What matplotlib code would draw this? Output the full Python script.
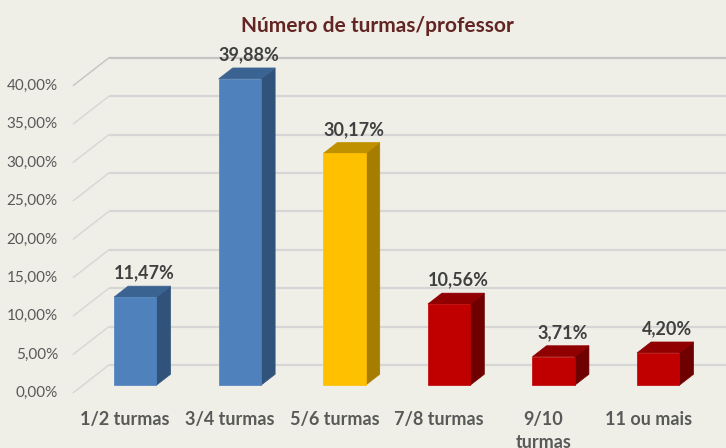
import matplotlib
matplotlib.use("Agg")
import matplotlib.pyplot as plt
from matplotlib.patches import Polygon

# ---- data ----
categories = ["1/2 turmas", "3/4 turmas", "5/6 turmas", "7/8 turmas", "9/10\nturmas", "11 ou mais"]
values = [11.47, 39.88, 30.17, 10.56, 3.71, 4.20]
y_ticks = [0, 5, 10, 15, 20, 25, 30, 35, 40]
title = "Número de turmas/professor"

# ---- styles ----
front_cols = ["#4F81BD", "#4F81BD", "#FFC000", "#C00000", "#C00000", "#C00000"]
side_cols = ["#31527A", "#31527A", "#A67D00", "#6E0000", "#6E0000", "#6E0000"]
top_cols = ["#3B6392", "#3B6392", "#BF9000", "#900000", "#900000", "#900000"]
bg = "#EFEFE7"
grid_col = "#D6D6D6"
font = "Lato"

W, H = 726, 448
X0, XS = 125.2, 104.6       # px of category 0 on front plane, px per category
Y0, YS = 55.0, 7.68         # px (from bottom) of 0% on front plane, px per percent
DX, DY = 36 / XS, 28 / YS   # depth offset of back wall, data units
Z0, Z1 = 0.28, 0.67         # bar depth range (fraction of wall depth)
HW = 21.2 / XS              # bar half width

fig = plt.figure(figsize=(W / 100, H / 100), dpi=100, facecolor=bg)
ax = fig.add_axes([0, 0, 1, 1])
ax.set_facecolor(bg)
ax.set_xlim(-X0 / XS, (W - X0) / XS)
ax.set_ylim(-Y0 / YS, (H - Y0) / YS)
ax.axis("off")

xl = -0.5
xr = ax.get_xlim()[1] + 1
# gridlines: left wall diagonals + back wall horizontals
for t in y_ticks:
    c = "#C4C4C4" if t == max(y_ticks) else grid_col
    ax.plot([xl, xl + DX], [t, t + DY], color=c, lw=1.0, zorder=1, solid_capstyle="butt")
    ax.plot([xl + DX, xr], [t + DY, t + DY], color=c, lw=1.6, zorder=1, solid_capstyle="butt")
    ax.text(xl - 15 / XS, t, f"{t:.2f}".replace(".", ",") + "%", ha="right", va="center",
            fontsize=11, color="#595959", family=font)

# bars
for i, v in enumerate(values):
    l, r = i - HW, i + HW
    front = [(l + DX * Z0, DY * Z0), (r + DX * Z0, DY * Z0), (r + DX * Z0, v + DY * Z0), (l + DX * Z0, v + DY * Z0)]
    side = [(r + DX * Z0, DY * Z0), (r + DX * Z1, DY * Z1), (r + DX * Z1, v + DY * Z1), (r + DX * Z0, v + DY * Z0)]
    top = [(l + DX * Z0, v + DY * Z0), (r + DX * Z0, v + DY * Z0), (r + DX * Z1, v + DY * Z1), (l + DX * Z1, v + DY * Z1)]
    ax.add_patch(Polygon(side, closed=True, facecolor=side_cols[i], edgecolor=side_cols[i], lw=0.5, zorder=3))
    ax.add_patch(Polygon(top, closed=True, facecolor=top_cols[i], edgecolor=top_cols[i], lw=0.5, zorder=3))
    ax.add_patch(Polygon(front, closed=True, facecolor=front_cols[i], edgecolor=front_cols[i], lw=0.5, zorder=4))
    ax.text(i + DX * 0.53, v + DY * Z1 + 13 / YS, f"{v:.2f}".replace(".", ",") + "%",
            ha="center", va="center", fontsize=13, fontweight="bold", color="#404040", family=font, zorder=5)

# category labels
for i, c in enumerate(categories):
    ax.text(i, -(411 - (H - Y0)) / YS, c, ha="center", va="top", fontsize=13, fontweight="bold",
            color="#595959", family=font, linespacing=1.4)

fig.text(377 / W, 1 - 31.7 / H, title, ha="center", va="baseline", fontsize=15,
         fontweight="bold", color="#632523", family=font)

fig.savefig("out.png", dpi=100, facecolor=bg)
